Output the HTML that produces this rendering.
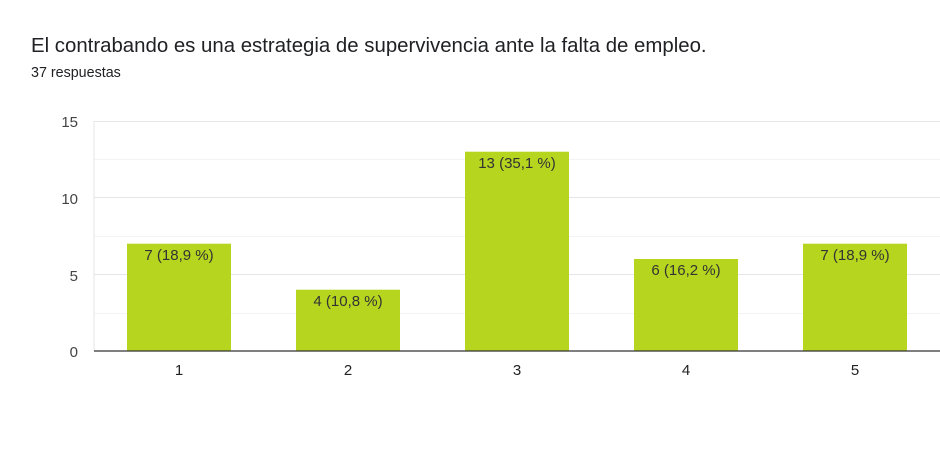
<!DOCTYPE html>
<html><head><meta charset="utf-8"><style>
body{margin:0;background:#fff;width:940px;height:447px;overflow:hidden;font-family:"Liberation Sans",Arial,sans-serif}
</style></head><body>
<svg width="940" height="447" xmlns="http://www.w3.org/2000/svg" font-family="Liberation Sans, Arial, sans-serif">
<text x="31" y="52" font-size="20.4" fill="#202124">El contrabando es una estrategia de supervivencia ante la falta de empleo.</text>
<text x="31" y="77" font-size="14.3" fill="#202124">37 respuestas</text>
<g stroke="#f3f3f3" stroke-width="1">
<line x1="94" y1="159.5" x2="940" y2="159.5"/><line x1="94" y1="236.5" x2="940" y2="236.5"/><line x1="94" y1="313.5" x2="940" y2="313.5"/>
</g>
<g stroke="#e6e6e6" stroke-width="1">
<line x1="94" y1="121.5" x2="940" y2="121.5"/><line x1="94" y1="197.5" x2="940" y2="197.5"/><line x1="94" y1="274.5" x2="940" y2="274.5"/>
<line x1="94" y1="121" x2="94" y2="351"/>
</g>
<g fill="#b5d51f">
<rect x="127" y="243.7" width="104" height="107.3"/>
<rect x="296" y="289.7" width="104" height="61.3"/>
<rect x="465" y="151.7" width="104" height="199.3"/>
<rect x="634" y="259" width="104" height="92"/>
<rect x="803" y="243.7" width="104" height="107.3"/>
</g>
<line x1="94" y1="351" x2="940" y2="351" stroke="#333" stroke-width="1.3"/>
<g font-size="15" fill="#333" text-anchor="middle">
<text x="179" y="260">7 (18,9 %)</text>
<text x="348" y="306">4 (10,8 %)</text>
<text x="517" y="168">13 (35,1 %)</text>
<text x="686" y="275">6 (16,2 %)</text>
<text x="855" y="260">7 (18,9 %)</text>
</g>
<g font-size="15" fill="#444" text-anchor="end">
<text x="78" y="127">15</text><text x="78" y="204">10</text><text x="78" y="281">5</text><text x="78" y="357">0</text>
</g>
<g font-size="15" fill="#222" text-anchor="middle">
<text x="179" y="375">1</text><text x="348" y="375">2</text><text x="517" y="375">3</text><text x="686" y="375">4</text><text x="855" y="375">5</text>
</g>
</svg>
</body></html>
